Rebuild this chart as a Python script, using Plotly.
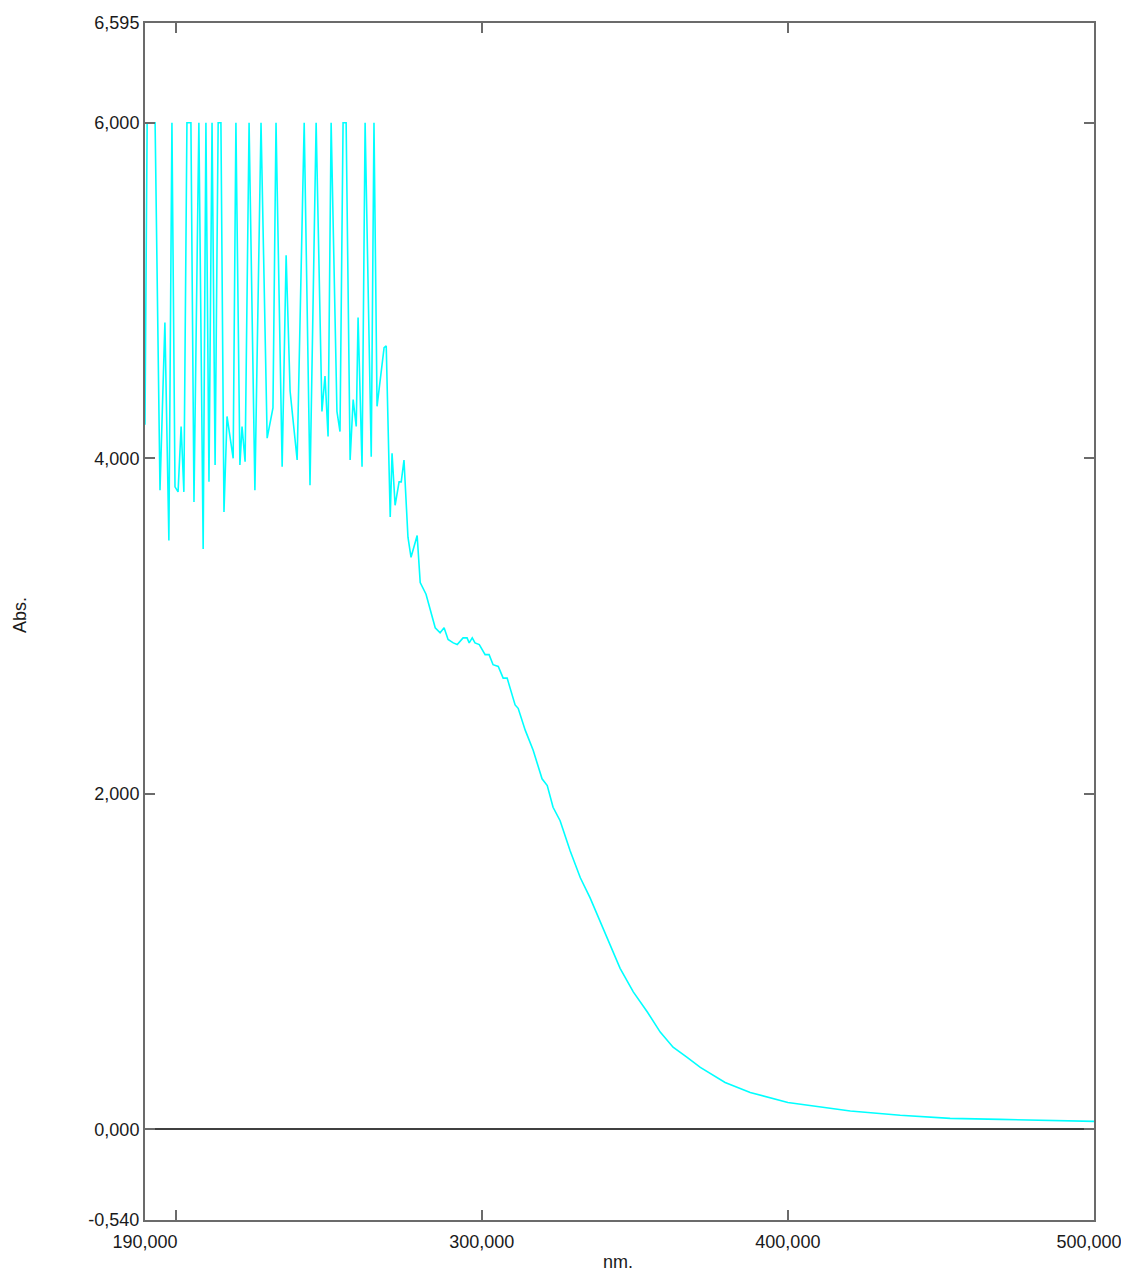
import plotly.graph_objects as go

# Wavelength (nm) and absorbance values
wavelength = [190.0, 190.7, 193.3, 194.9, 196.5, 197.8, 198.8, 199.8, 200.8, 201.8,
              202.7, 203.7, 205.0, 206.0, 207.6, 209.0, 209.9, 210.9, 211.9, 212.9,
              213.9, 214.8, 215.8, 216.8, 218.8, 219.7, 221.0, 221.7, 222.7, 224.0,
              225.9, 227.9, 229.9, 231.8, 232.8, 234.8, 236.1, 237.4, 239.7, 242.0,
              243.9, 245.9, 247.8, 248.8, 249.8, 250.8, 252.7, 253.7, 254.7, 255.7,
              257.0, 258.0, 259.0, 259.6, 260.9, 261.9, 263.9, 264.8, 265.8, 268.1,
              268.8, 270.1, 270.7, 271.7, 273.0, 273.7, 274.6, 275.9, 276.9, 278.9,
              279.9, 281.8, 284.8, 286.4, 287.7, 289.0, 290.7, 292.0, 293.9, 295.2,
              295.9, 296.9, 297.8, 299.2, 301.1, 302.4, 303.7, 305.4, 307.0, 308.3,
              310.9, 311.9, 314.2, 316.8, 319.7, 321.4, 323.3, 325.6, 328.9, 332.2,
              335.4, 338.7, 342.0, 345.2, 349.5, 354.1, 358.3, 362.5, 367.1, 371.4,
              379.5, 387.7, 400.0, 420.4, 436.7, 453.0, 469.4, 500.0]
absorbance = [4.20, 6.00, 6.00, 3.81, 4.81, 3.51, 6.00, 3.83, 3.80, 4.19,
              3.80, 6.00, 6.00, 3.74, 6.00, 3.46, 6.00, 3.86, 6.00, 3.96,
              6.00, 6.00, 3.68, 4.25, 4.00, 6.00, 3.96, 4.19, 3.98, 6.00,
              3.81, 6.00, 4.12, 4.30, 6.00, 3.95, 5.21, 4.40, 3.99, 6.00,
              3.84, 6.00, 4.28, 4.49, 4.13, 6.00, 4.28, 4.16, 6.00, 6.00,
              3.99, 4.35, 4.19, 4.84, 3.95, 6.00, 4.01, 6.00, 4.31, 4.66,
              4.67, 3.65, 4.03, 3.72, 3.86, 3.86, 3.99, 3.53, 3.41, 3.54,
              3.26, 3.19, 2.99, 2.96, 2.99, 2.92, 2.90, 2.89, 2.93, 2.93,
              2.90, 2.93, 2.90, 2.89, 2.83, 2.83, 2.77, 2.76, 2.69, 2.69,
              2.53, 2.51, 2.38, 2.26, 2.09, 2.05, 1.92, 1.84, 1.66, 1.50,
              1.38, 1.24, 1.10, 0.96, 0.82, 0.70, 0.58, 0.49, 0.43, 0.37,
              0.28, 0.22, 0.16, 0.11, 0.084, 0.066, 0.060, 0.048]

x_tickvals = [190, 200, 300, 400, 500]
x_ticktext = ["190,000", "", "300,000", "400,000", "500,000&nbsp;&nbsp;"]
y_tickvals = [-0.54, 0, 2, 4, 6, 6.595]
y_ticktext = ["-0,540", "0,000", "2,000", "4,000", "6,000", "6,595"]

AX = "#6b6b6b"
TXT = "#1a1a1a"
FONT = "Liberation Sans, Arial, sans-serif"

fig = go.Figure()
fig.add_trace(go.Scatter(x=wavelength, y=absorbance, mode="lines",
                         line=dict(color="#00FFFF", width=1.6),
                         showlegend=False, hoverinfo="skip"))

axis_common = dict(showline=True, linecolor=AX, linewidth=2, mirror="ticks",
                   ticks="inside", ticklen=10, tickwidth=2, tickcolor=AX,
                   showgrid=False, tickfont=dict(family=FONT, size=18, color=TXT),
                   automargin=False)

fig.update_xaxes(range=[190, 500], tickmode="array", tickvals=x_tickvals,
                 ticktext=x_ticktext, zeroline=False, ticklabelstandoff=4,
                 **axis_common)
fig.update_yaxes(range=[-0.54, 6.595], tickmode="array", tickvals=y_tickvals,
                 ticktext=y_ticktext, zeroline=True, zerolinecolor="#404040",
                 zerolinewidth=2, **axis_common)

fig.add_annotation(text="Abs.", xref="paper", yref="paper", x=-0.1317, y=0.5054,
                   xanchor="center", yanchor="middle",
                   showarrow=False, textangle=-90,
                   font=dict(family=FONT, size=18, color=TXT))
fig.add_annotation(text="nm.", xref="paper", yref="paper", x=0.4984, y=-0.0351,
                   xanchor="center", yanchor="middle",
                   showarrow=False, font=dict(family=FONT, size=18, color=TXT))

fig.update_layout(width=1129, height=1271,
                  margin=dict(l=137, r=43, t=15, b=59),
                  paper_bgcolor="white", plot_bgcolor="white",
                  font=dict(family=FONT, color=TXT))

fig.write_html("out.html")
